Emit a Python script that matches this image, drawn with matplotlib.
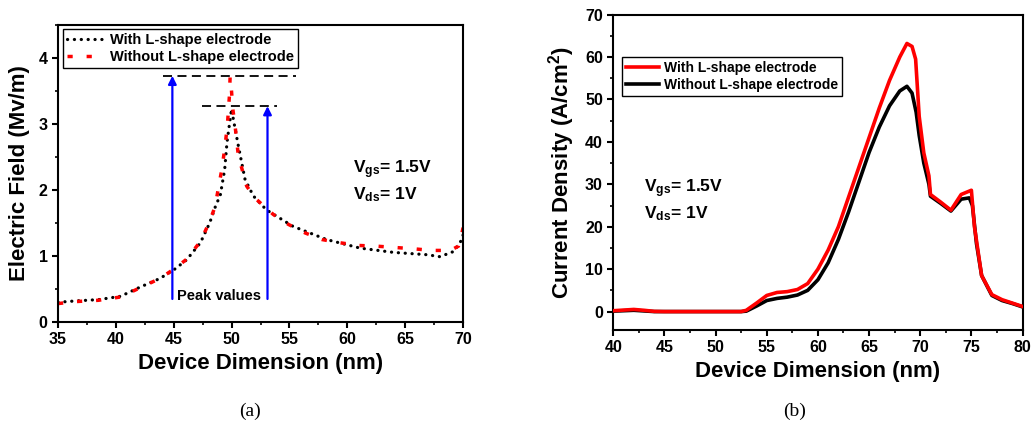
import matplotlib
matplotlib.use('Agg')
import matplotlib.pyplot as plt
from matplotlib.ticker import MultipleLocator

plt.rcParams['font.family'] = ['Liberation Sans', 'DejaVu Sans']
plt.rcParams['font.weight'] = 'bold'
plt.rcParams['mathtext.fontset'] = 'custom'
plt.rcParams['mathtext.rm'] = 'Liberation Sans:bold'
plt.rcParams['mathtext.it'] = 'Liberation Sans:bold'
plt.rcParams['mathtext.bf'] = 'Liberation Sans:bold'

# ---------------------------------------------------
# (a) electric field
ef_x_with = [35, 36.5, 38.5, 40.4, 42.1, 43.8, 45.0, 46.1, 47.3, 48.1, 48.7, 49.0, 49.4, 49.6,
             49.87, 50.0, 50.15, 50.58, 51.16, 51.88, 53.0, 55.3, 58.2, 61.1, 64.0, 66.9, 68.0,
             69.2, 69.9, 70]
ef_y_with = [0.30, 0.32, 0.34, 0.39, 0.53, 0.66, 0.79, 0.94, 1.2, 1.5, 1.8, 1.9, 2.31, 2.72,
             3.07, 3.23, 3.07, 2.67, 2.16, 1.91, 1.70, 1.45, 1.25, 1.12, 1.055, 1.02, 0.99,
             1.07, 1.25, 1.32]

ef_x_without = [35, 36.5, 38.5, 40.4, 42.1, 43.8, 45.0, 46.1, 47.3, 48.1, 48.57, 49.15, 49.4,
                49.63, 49.8, 49.87, 49.95, 50.1, 50.3, 50.58, 51.3, 52.0, 53.6, 54.9, 56.35,
                57.8, 59.4, 61.0, 62.5, 64.1, 65.7, 67.3, 68.9, 69.6, 69.9, 70]
ef_y_without = [0.28, 0.31, 0.33, 0.38, 0.52, 0.66, 0.80, 0.95, 1.22, 1.52, 1.75, 2.31, 2.62,
                2.97, 3.4, 3.71, 3.6, 3.23, 2.97, 2.52, 2.06, 1.88, 1.63, 1.48, 1.35,
                1.25, 1.2, 1.16, 1.15, 1.13, 1.11, 1.085, 1.085, 1.15, 1.35, 1.43]

peak_with = 3.27
peak_without = 3.73

# (b) current density
jd_x_with = [40, 41, 42, 43, 44, 45, 50, 52.5, 53, 54, 55, 56, 57, 58, 59, 60, 61, 62, 63, 64,
             65, 66, 67, 68, 68.7, 69.2, 69.55, 69.9, 70.35, 70.85, 71.0, 72, 73, 74, 75, 75.3,
             76, 77, 78, 79, 80]
jd_y_with = [0.2, 0.35, 0.5, 0.3, 0.05, 0, 0, 0, 0.3, 2.0, 3.8, 4.5, 4.7, 5.2, 6.6, 10, 14.5,
             20, 27, 34, 41, 48, 54.5, 60, 63.2, 62.5, 59.5, 46, 37.4, 32, 27.6, 25.8, 23.9, 27.6,
             28.6, 20, 8.5, 4.0, 2.8, 2.0, 1.2]

jd_x_without = [40, 41, 42, 43, 44, 45, 50, 52.5, 53, 54, 55, 56, 57, 58, 59, 60, 61, 62, 63,
                64, 65, 66, 67, 68, 68.7, 69.2, 69.6, 69.9, 70.35, 70.85, 71.0, 72, 73, 74,
                74.8, 75.1, 75.5, 76, 77, 78, 79, 80]
jd_y_without = [0.1, 0.2, 0.3, 0.15, 0, 0, 0, 0, 0.1, 1.3, 2.6, 3.1, 3.4, 3.9, 5.0, 7.5, 11.5,
                17, 23.5, 30.5, 37.5, 43.5, 48.5, 52, 53.1, 51.5, 47, 41.5, 35, 30, 27.2, 25.5,
                23.7, 26.5, 26.8, 25, 16, 8.5, 3.8, 2.6, 1.9, 1.1]

label_with = 'With L-shape electrode'
label_without = 'Without L-shape electrode'

# ---------------------------------------------------

fig = plt.figure(figsize=(10.36, 4.30), dpi=100)
ax1 = fig.add_axes([0.056, 0.251, 0.391, 0.691])
ax2 = fig.add_axes([0.592, 0.233, 0.395, 0.733])

for ax in (ax1, ax2):
    for s in ax.spines.values():
        s.set_linewidth(1.5)
    ax.tick_params(which='major', direction='out', length=4, width=1.5, labelsize=11.5)
    ax.tick_params(which='minor', direction='out', length=2.5, width=1.2)

# panel (a)
ax1.plot(ef_x_with, ef_y_with, color='black', lw=2.3, linestyle=(0, (0.05, 2.1)),
         dash_capstyle='round', label=label_with)
ax1.plot(ef_x_without, ef_y_without, color='red', lw=2.5, linestyle=(0, (1.5, 4.0)),
         label=label_without)
ax1.plot([44.1, 55.6], [peak_without, peak_without], color='black', lw=1.3,
         linestyle=(0, (5, 3)))
ax1.plot([47.4, 53.9], [peak_with, peak_with], color='black', lw=1.3,
         linestyle=(0, (5, 3)))
for xa, ya in ((44.88, peak_without), (53.1, peak_with)):
    ax1.annotate('', xy=(xa, ya), xytext=(xa, 0.35),
                 arrowprops=dict(arrowstyle='-|>', color='blue', lw=1.6,
                                 mutation_scale=12, shrinkA=0, shrinkB=0))
ax1.text(45.3, 0.4, 'Peak values', fontsize=10.5, fontweight='bold', va='center')
ax1.text(60.5, 2.31, r'V$_{gs}$= 1.5V', fontsize=12.5, va='center')
ax1.text(60.5, 1.93, r'V$_{ds}$= 1V', fontsize=12.5, va='center')

ax1.set_xlim(35, 70)
ax1.set_ylim(0, 4.5)
ax1.xaxis.set_major_locator(MultipleLocator(5))
ax1.xaxis.set_minor_locator(MultipleLocator(2.5))
ax1.yaxis.set_major_locator(MultipleLocator(1))
ax1.yaxis.set_minor_locator(MultipleLocator(0.5))
ax1.set_xlabel('Device Dimension (nm)', fontsize=16, fontweight='bold', labelpad=4)
ax1.set_ylabel('Electric Field (Mv/m)', fontsize=16, fontweight='bold', labelpad=6)
leg1 = ax1.legend(loc='upper left', bbox_to_anchor=(0.012, 0.985), fontsize=10.5,
                  handlelength=2.4, handletextpad=0.6, borderpad=0.25, labelspacing=0.2,
                  fancybox=False, edgecolor='black', framealpha=1, borderaxespad=0)
leg1.get_frame().set_linewidth(1.0)

# panel (b)
ax2.plot(jd_x_without, jd_y_without, color='black', lw=2.6, label=label_without, zorder=2)
ax2.plot(jd_x_with, jd_y_with, color='red', lw=2.6, label=label_with, zorder=3)
ax2.text(43.0, 29.0, r'V$_{gs}$= 1.5V', fontsize=12.5, va='center')
ax2.text(43.0, 23.0, r'V$_{ds}$= 1V', fontsize=12.5, va='center')

ax2.set_xlim(40, 80)
ax2.set_ylim(-4.3, 70)
ax2.xaxis.set_major_locator(MultipleLocator(5))
ax2.xaxis.set_minor_locator(MultipleLocator(2.5))
ax2.yaxis.set_major_locator(MultipleLocator(10))
ax2.yaxis.set_minor_locator(MultipleLocator(5))
ax2.set_xlabel('Device Dimension (nm)', fontsize=16, fontweight='bold', labelpad=4)
ax2.set_ylabel(r'Current Density (A/cm$^2$)', fontsize=16, fontweight='bold', labelpad=6)
h, l = ax2.get_legend_handles_labels()
leg2 = ax2.legend(h[::-1], l[::-1], loc='upper left', bbox_to_anchor=(0.021, 0.865),
                  fontsize=10, handlelength=2.4, handletextpad=0.3, borderpad=0.3,
                  labelspacing=0.2, fancybox=False, edgecolor='black', framealpha=1,
                  borderaxespad=0)
leg2.get_frame().set_linewidth(1.0)

fig.text(250 / 1036, 1 - 411 / 430, '(a)', family='Liberation Serif', fontweight='normal',
         fontsize=14, ha='center', va='center')
fig.text(795 / 1036, 1 - 411 / 430, '(b)', family='Liberation Serif', fontweight='normal',
         fontsize=14, ha='center', va='center')

fig.savefig('out.png', dpi=100)
